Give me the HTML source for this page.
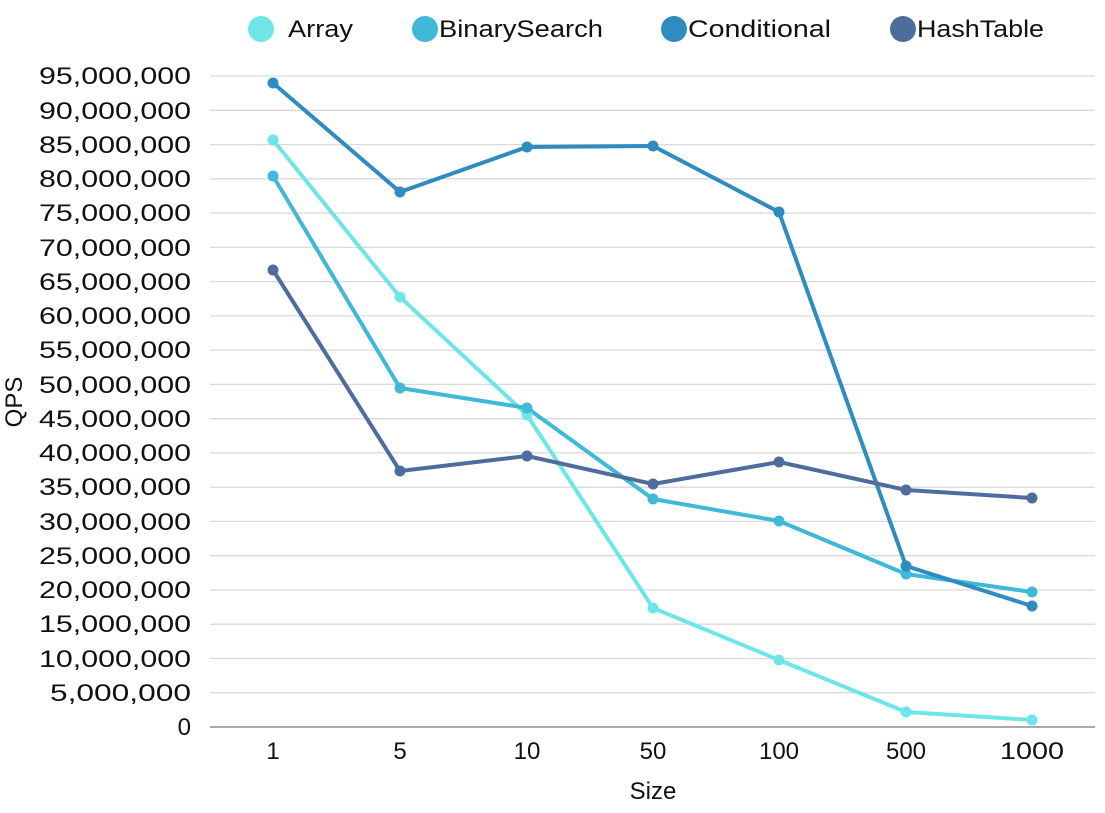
<!DOCTYPE html>
<html><head><style>body{margin:0;background:#fff}</style></head><body>
<svg width="1105" height="808" xmlns="http://www.w3.org/2000/svg" font-family="Liberation Sans, sans-serif">
<rect width="1105" height="808" fill="#fff"/>
<g stroke="#d9d9d9" stroke-width="1.3">
<line x1="210" x2="1095" y1="692.7" y2="692.7"/><line x1="210" x2="1095" y1="658.5" y2="658.5"/><line x1="210" x2="1095" y1="624.2" y2="624.2"/><line x1="210" x2="1095" y1="590" y2="590"/><line x1="210" x2="1095" y1="555.7" y2="555.7"/><line x1="210" x2="1095" y1="521.4" y2="521.4"/><line x1="210" x2="1095" y1="487.2" y2="487.2"/><line x1="210" x2="1095" y1="452.9" y2="452.9"/><line x1="210" x2="1095" y1="418.7" y2="418.7"/><line x1="210" x2="1095" y1="384.4" y2="384.4"/><line x1="210" x2="1095" y1="350.1" y2="350.1"/><line x1="210" x2="1095" y1="315.9" y2="315.9"/><line x1="210" x2="1095" y1="281.6" y2="281.6"/><line x1="210" x2="1095" y1="247.4" y2="247.4"/><line x1="210" x2="1095" y1="213.1" y2="213.1"/><line x1="210" x2="1095" y1="178.8" y2="178.8"/><line x1="210" x2="1095" y1="144.6" y2="144.6"/><line x1="210" x2="1095" y1="110.3" y2="110.3"/><line x1="210" x2="1095" y1="76" y2="76"/>
</g>
<line x1="210" x2="1095" y1="727" y2="727" stroke="#777" stroke-width="1.3"/>
<g font-size="24" fill="#111" text-anchor="end">
<text x="191" y="735">0</text>
<text x="191" y="701" textLength="141" lengthAdjust="spacingAndGlyphs">5,000,000</text>
<text x="191" y="667" textLength="152" lengthAdjust="spacingAndGlyphs">10,000,000</text>
<text x="191" y="632" textLength="152" lengthAdjust="spacingAndGlyphs">15,000,000</text>
<text x="191" y="598" textLength="152" lengthAdjust="spacingAndGlyphs">20,000,000</text>
<text x="191" y="564" textLength="152" lengthAdjust="spacingAndGlyphs">25,000,000</text>
<text x="191" y="530" textLength="152" lengthAdjust="spacingAndGlyphs">30,000,000</text>
<text x="191" y="495" textLength="152" lengthAdjust="spacingAndGlyphs">35,000,000</text>
<text x="191" y="461" textLength="152" lengthAdjust="spacingAndGlyphs">40,000,000</text>
<text x="191" y="427" textLength="152" lengthAdjust="spacingAndGlyphs">45,000,000</text>
<text x="191" y="393" textLength="152" lengthAdjust="spacingAndGlyphs">50,000,000</text>
<text x="191" y="358" textLength="152" lengthAdjust="spacingAndGlyphs">55,000,000</text>
<text x="191" y="324" textLength="152" lengthAdjust="spacingAndGlyphs">60,000,000</text>
<text x="191" y="290" textLength="152" lengthAdjust="spacingAndGlyphs">65,000,000</text>
<text x="191" y="256" textLength="152" lengthAdjust="spacingAndGlyphs">70,000,000</text>
<text x="191" y="221" textLength="152" lengthAdjust="spacingAndGlyphs">75,000,000</text>
<text x="191" y="187" textLength="152" lengthAdjust="spacingAndGlyphs">80,000,000</text>
<text x="191" y="153" textLength="152" lengthAdjust="spacingAndGlyphs">85,000,000</text>
<text x="191" y="119" textLength="152" lengthAdjust="spacingAndGlyphs">90,000,000</text>
<text x="191" y="84" textLength="152" lengthAdjust="spacingAndGlyphs">95,000,000</text>
</g>
<g font-size="24" fill="#111" text-anchor="middle">
<text x="273" y="759">1</text><text x="400" y="759">5</text><text x="527" y="759">10</text><text x="653" y="759">50</text><text x="779" y="759">100</text><text x="906" y="759">500</text><text x="1032" y="759" textLength="64" lengthAdjust="spacingAndGlyphs">1000</text>
<text x="653" y="799">Size</text>
<text transform="translate(22,402) rotate(-90)">QPS</text>
</g>
<g fill="none" stroke-width="4" stroke-linejoin="round">
<polyline stroke="#6ee6e8" points="273,140 400,297 527,415 653,608 779,660 906,712 1032,720"/>
<polyline stroke="#40b8d8" points="273,176 400,388 527,408 653,499 779,521 906,574 1032,592"/>
<polyline stroke="#2e8cbf" points="273,83 400,192 527,147 653,146 779,212 906,566 1032,606"/>
<polyline stroke="#4f6d9c" points="273,270 400,471 527,456 653,484 779,462 906,490 1032,498"/>
</g>
<g fill="#6ee6e8"><circle cx="273" cy="140" r="5.5"/><circle cx="400" cy="297" r="5.5"/><circle cx="527" cy="415" r="5.5"/><circle cx="653" cy="608" r="5.5"/><circle cx="779" cy="660" r="5.5"/><circle cx="906" cy="712" r="5.5"/><circle cx="1032" cy="720" r="5.5"/></g>
<g fill="#40b8d8"><circle cx="273" cy="176" r="5.5"/><circle cx="400" cy="388" r="5.5"/><circle cx="527" cy="408" r="5.5"/><circle cx="653" cy="499" r="5.5"/><circle cx="779" cy="521" r="5.5"/><circle cx="906" cy="574" r="5.5"/><circle cx="1032" cy="592" r="5.5"/></g>
<g fill="#2e8cbf"><circle cx="273" cy="83" r="5.5"/><circle cx="400" cy="192" r="5.5"/><circle cx="527" cy="147" r="5.5"/><circle cx="653" cy="146" r="5.5"/><circle cx="779" cy="212" r="5.5"/><circle cx="906" cy="566" r="5.5"/><circle cx="1032" cy="606" r="5.5"/></g>
<g fill="#4f6d9c"><circle cx="273" cy="270" r="5.5"/><circle cx="400" cy="471" r="5.5"/><circle cx="527" cy="456" r="5.5"/><circle cx="653" cy="484" r="5.5"/><circle cx="779" cy="462" r="5.5"/><circle cx="906" cy="490" r="5.5"/><circle cx="1032" cy="498" r="5.5"/></g>
<g font-size="24" fill="#111">
<circle cx="261" cy="29" r="13" fill="#6ee6e8"/><text x="288" y="37" textLength="65" lengthAdjust="spacingAndGlyphs">Array</text>
<circle cx="425" cy="29" r="13" fill="#40b8d8"/><text x="439" y="37" textLength="164" lengthAdjust="spacingAndGlyphs">BinarySearch</text>
<circle cx="674" cy="29" r="13" fill="#2e8cbf"/><text x="688" y="37" textLength="143" lengthAdjust="spacingAndGlyphs">Conditional</text>
<circle cx="903" cy="29" r="13" fill="#4f6d9c"/><text x="917" y="37" textLength="127" lengthAdjust="spacingAndGlyphs">HashTable</text>
</g>
</svg>
</body></html>
